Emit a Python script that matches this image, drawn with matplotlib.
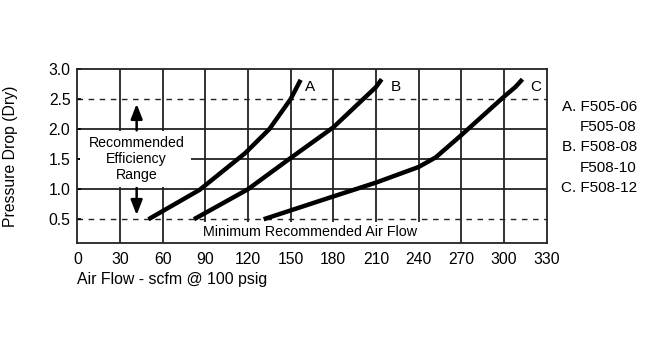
import matplotlib
matplotlib.use("Agg")
import matplotlib.pyplot as plt
from matplotlib.patches import Rectangle

plt.rcParams["font.family"] = ["Liberation Sans", "DejaVu Sans"]

# ---- data ----
a_x = [50, 86, 118, 135, 150, 157]
a_y = [0.5, 0.99, 1.6, 2.0, 2.5, 2.82]
b_x = [82, 120, 150, 180, 210, 214]
b_y = [0.5, 1.0, 1.52, 2.03, 2.7, 2.83]
c_x = [131, 180, 210, 240, 252, 270, 300, 308, 313]
c_y = [0.5, 0.88, 1.11, 1.37, 1.53, 1.9, 2.54, 2.7, 2.83]
curve_labels = ["A", "B", "C"]
x_ticks = [0, 30, 60, 90, 120, 150, 180, 210, 240, 270, 300, 330]
y_ticks = [0.5, 1.0, 1.5, 2.0, 2.5, 3.0]
y_tick_labels = ["0.5", "1.0", "1.5", "2.0", "2.5", "3.0"]
dashed_levels = [0.5, 2.5]
solid_levels = [1.0, 1.5, 2.0]
legend_lines = ["A. F505-06", "F505-08", "B. F508-08", "F508-10", "C. F508-12"]

fig = plt.figure(figsize=(6.5, 3.44), dpi=100)
ax = fig.add_axes([0.119, 0.2927, 0.722, 0.5067])
ax.set_xlim(0, 330)
ax.set_ylim(0.1, 3.0)

# grid
for x in x_ticks[1:-1]:
    ax.axvline(x, color="#222222", lw=1.3, zorder=1)
for y in solid_levels:
    ax.axhline(y, color="#222222", lw=1.3, zorder=1)
for y in dashed_levels:
    ax.axhline(y, color="#222222", lw=1.0, ls=(0, (4, 4)), zorder=1)

# white boxes behind annotations
ax.add_patch(Rectangle((2, 1.03), 78, 0.94, facecolor="white", edgecolor="none", zorder=2))
ax.add_patch(Rectangle((86, 0.1), 157, 0.36, facecolor="white", edgecolor="none", zorder=2))

for xs, ys, lab, lx in zip([a_x, b_x, c_x], [a_y, b_y, c_y], curve_labels, [163.5, 224, 322]):
    ax.plot(xs, ys, color="black", lw=3.2, solid_capstyle="butt", zorder=3)
    ax.text(lx, 2.7, lab, ha="center", va="center", fontsize=11, zorder=4)

ax.text(41.7, 1.5, "Recommended\nEfficiency\nRange", ha="center", va="center",
        fontsize=10.2, linespacing=1.2, zorder=4)
arrow_style = dict(arrowstyle="-|>,head_length=0.9,head_width=0.35", color="black", lw=1.8,
                   shrinkA=0, shrinkB=0)
ax.annotate("", xy=(41.7, 2.42), xytext=(41.7, 1.98), arrowprops=arrow_style, zorder=4)
ax.annotate("", xy=(41.7, 0.57), xytext=(41.7, 1.02), arrowprops=arrow_style, zorder=4)
ax.text(88.6, 0.28, "Minimum Recommended Air Flow", ha="left", va="center", fontsize=10.3, zorder=4)

ax.set_xticks(x_ticks)
ax.set_xticklabels([str(v) for v in x_ticks])
ax.set_yticks(y_ticks)
ax.set_yticklabels(y_tick_labels)
ax.tick_params(axis="x", length=0, pad=6, labelsize=11.3)
ax.tick_params(axis="y", direction="in", length=3, width=1.2, pad=5, labelsize=11.3)
for s in ax.spines.values():
    s.set_linewidth(1.3)
    s.set_color("#222222")

ax.set_ylabel("Pressure Drop (Dry)", fontsize=11.3)
ax.yaxis.set_label_coords(-0.126, 0.5)
ax.text(0, -0.21, "Air Flow - scfm @ 100 psig", transform=ax.transAxes,
        ha="left", va="center", fontsize=11.4)

for i, line in enumerate(legend_lines):
    ax.text(393.5, 2.37 - i * 0.3375, line, ha="right", va="center", fontsize=11, clip_on=False)

fig.savefig("out.png", dpi=100)
